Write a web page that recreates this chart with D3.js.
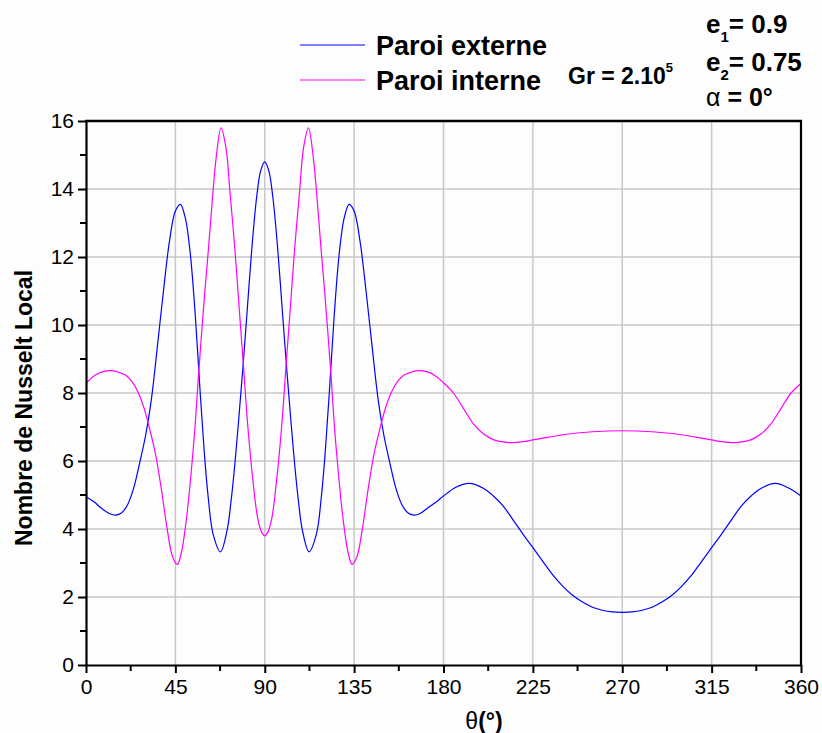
<!DOCTYPE html>
<html><head><meta charset="utf-8">
<script src="https://cdn.jsdelivr.net/npm/d3@7"></script>
<style>body{margin:0;background:#fff;}svg{display:block;font-family:Arial,"Liberation Sans",sans-serif;}</style>
</head><body>
<script>
const thetaExt = [0,4,8,12,15,18,21,24,27,30,33,36,39,42,45,47.5,50,52.5,55,57.5,59.5,61.5,64,67.7,71,73,75,77,79,81,83.5,86,88,90,92,94,96.5,99,101,103,105,107,109,112.3,116,118.5,120.5,122.5,125,127.5,130,132.5,135,138,141,144,147,150,153,156,159,162,165,168,172,176,180,186,193,200,205,210,215,220,225,230,235,240,245,250,255,260,265,270,275,280,285,290,295,300,305,310,315,320,325,330,335,340,347,354,360];
const nuExt = [4.95,4.80,4.60,4.45,4.41,4.48,4.72,5.20,5.94,6.75,7.85,9.40,11.00,12.45,13.35,13.55,13.15,12.10,10.30,8.00,6.30,4.95,3.85,3.33,3.95,4.80,5.94,7.30,8.75,10.30,12.25,13.80,14.55,14.80,14.55,13.80,12.25,10.30,8.75,7.30,5.94,4.80,3.95,3.33,3.85,4.95,6.30,8.00,10.30,12.10,13.15,13.55,13.35,12.45,11.00,9.40,7.85,6.75,5.94,5.20,4.72,4.48,4.41,4.45,4.62,4.78,4.97,5.22,5.34,5.20,4.98,4.68,4.27,3.85,3.45,3.05,2.65,2.32,2.05,1.85,1.70,1.61,1.56,1.55,1.56,1.61,1.70,1.85,2.05,2.32,2.65,3.05,3.45,3.85,4.27,4.68,4.98,5.20,5.34,5.20,4.97];
const thetaInt = [0,4,8,12.9,17,20,23,26,29,32,35,38,41,43.5,46,48,50.7,53,54.9,56.5,58.2,60,61.6,63.5,65.5,68,70.5,72.5,75,77,79.2,81.5,84.2,86.5,88.5,90,91.5,93.5,95.8,98.5,100.8,103,105,107.5,109.5,112,114.5,116.5,118.4,120,121.8,123.5,125.1,127,129.3,132,134,136.5,139,142,145,148,151,154,157,160,163,167.1,172,176,180,185,190,195,200,205,210,213.4,220,225,233,240.8,255,270,285,299.2,307,315,320,326.6,330,335,340,345,350,355,360];
const nuInt = [8.28,8.50,8.62,8.66,8.60,8.52,8.35,8.05,7.60,6.95,6.20,5.15,3.95,3.20,2.96,3.30,4.36,5.70,7.00,8.40,9.75,11.10,12.20,13.60,14.90,15.80,15.20,13.90,12.20,10.60,8.87,7.00,5.34,4.30,3.90,3.80,3.90,4.30,5.34,7.00,8.87,10.60,12.20,13.90,15.20,15.80,14.90,13.60,12.20,11.10,9.75,8.40,7.00,5.70,4.36,3.30,2.96,3.20,3.95,5.15,6.20,6.95,7.60,8.05,8.35,8.52,8.60,8.66,8.62,8.50,8.30,8.00,7.55,7.10,6.80,6.63,6.56,6.54,6.57,6.62,6.70,6.78,6.86,6.89,6.86,6.78,6.70,6.62,6.57,6.54,6.56,6.63,6.80,7.10,7.55,8.00,8.28];
const xTicks = [0,45,90,135,180,225,270,315,360];
const yTicks = [0,2,4,6,8,10,12,14,16];
const seriesNames = ["Paroi externe","Paroi interne"];
const colors = ["#0000ff","#ff00ff"];

const W=822,H=733;
const svg=d3.select("body").append("svg").attr("width",W).attr("height",H);
svg.append("rect").attr("width",W).attr("height",H).attr("fill","#fdfdfd");
const x=d3.scaleLinear().domain([0,360]).range([86,801]);
const y=d3.scaleLinear().domain([0,16]).range([665,121]);

// grid
const g=svg.append("g");
g.selectAll(".gx").data(xTicks.slice(1,-1)).join("line")
 .attr("x1",d=>x(d)).attr("x2",d=>x(d)).attr("y1",y(0)).attr("y2",y(16))
 .attr("stroke","#c8c8c8").attr("stroke-width",1.5);
g.selectAll(".gy").data(yTicks.slice(1,-1)).join("line")
 .attr("y1",d=>y(d)).attr("y2",d=>y(d)).attr("x1",x(0)).attr("x2",x(360))
 .attr("stroke","#c8c8c8").attr("stroke-width",1.5);

// lines
const line=d3.line().curve(d3.curveCatmullRom.alpha(0.5));
const extPts=thetaExt.map((t,i)=>[x(t),y(nuExt[i])]);
const intPts=thetaInt.map((t,i)=>[x(t),y(nuInt[i])]);
svg.append("path").attr("d",line(extPts)).attr("fill","none").attr("stroke",colors[0]).attr("stroke-width",1.2);
svg.append("path").attr("d",line(intPts)).attr("fill","none").attr("stroke",colors[1]).attr("stroke-width",1.2);

// axes
const xMinor=d3.range(0,361,22.5);
const yMinor=d3.range(0,16.01,1);
const xAxis=d3.axisBottom(x).tickValues(xTicks).tickSize(8).tickSizeOuter(0).tickPadding(6);
const xa=svg.append("g").attr("transform",`translate(0,${y(0)})`).call(xAxis);
xa.select(".domain").attr("stroke","#000").attr("stroke-width",2.2);
xa.selectAll(".tick line").attr("stroke","#000").attr("stroke-width",2);
xa.selectAll(".tick text").attr("font-size",21).attr("fill","#000").attr("font-family","Arial, 'Liberation Sans', sans-serif");
svg.append("g").selectAll("line").data(xMinor.filter(v=>xTicks.indexOf(v)<0)).join("line")
 .attr("x1",d=>x(d)).attr("x2",d=>x(d)).attr("y1",y(0)).attr("y2",y(0)+6).attr("stroke","#000").attr("stroke-width",2);

const yAxis=d3.axisLeft(y).tickValues(yTicks).tickSize(8).tickSizeOuter(0).tickPadding(4);
const ya=svg.append("g").attr("transform",`translate(${x(0)},0)`).call(yAxis);
ya.select(".domain").attr("stroke","#000").attr("stroke-width",2.2);
ya.selectAll(".tick line").attr("stroke","#000").attr("stroke-width",2);
ya.selectAll(".tick text").attr("font-size",21).attr("fill","#000").attr("font-family","Arial, 'Liberation Sans', sans-serif");
svg.append("g").selectAll("line").data(yMinor.filter(v=>yTicks.indexOf(v)<0)).join("line")
 .attr("y1",d=>y(d)).attr("y2",d=>y(d)).attr("x1",x(0)).attr("x2",x(0)-6).attr("stroke","#000").attr("stroke-width",2);

// top and right frame
svg.append("line").attr("x1",x(0)-1).attr("x2",x(360)+1).attr("y1",y(16)).attr("y2",y(16)).attr("stroke","#000").attr("stroke-width",2.5);
svg.append("line").attr("x1",x(360)).attr("x2",x(360)).attr("y1",y(16)).attr("y2",y(0)).attr("stroke","#000").attr("stroke-width",2.2);

// axis titles
const xt=svg.append("text").attr("x",484).attr("y",729).attr("text-anchor","middle").attr("font-size",23).attr("fill","#000");
xt.append("tspan").text("θ");
xt.append("tspan").attr("font-weight","bold").text("(°)");
svg.append("text").attr("transform","translate(32,408) rotate(-90)").attr("text-anchor","middle")
 .attr("font-size",23).attr("font-weight","bold").attr("fill","#000").text("Nombre de Nusselt Local");

// legend
const leg=[[45,55],[80,90]];
seriesNames.forEach((n,i)=>{
  svg.append("line").attr("x1",300).attr("x2",365).attr("y1",leg[i][0]).attr("y2",leg[i][0]).attr("stroke",colors[i]).attr("stroke-width",1.2);
  svg.append("text").attr("x",376).attr("y",leg[i][1]).attr("font-size",27).attr("font-weight","bold").attr("fill","#000").text(n);
});

// annotations
const gr=svg.append("text").attr("x",568).attr("y",84).attr("font-size",23).attr("font-weight","bold").attr("fill","#000");
gr.append("tspan").text("Gr = 2.10");
gr.append("tspan").attr("font-size",13).attr("dy",-12).text("5");

function eLabel(yy,sub,val){
  const t=svg.append("text").attr("x",706).attr("y",yy).attr("font-size",26).attr("font-weight","bold").attr("fill","#000");
  t.append("tspan").text("e");
  t.append("tspan").attr("font-size",15).attr("dy",9).text(sub);
  t.append("tspan").attr("dy",-9).text("= "+val);
}
eLabel(33,"1","0.9");
eLabel(71,"2","0.75");
const al=svg.append("text").attr("x",706).attr("y",106).attr("font-size",25).attr("fill","#000");
al.append("tspan").attr("font-weight","normal").text("α");
al.append("tspan").attr("font-weight","bold").text(" = 0°");
</script>
</body></html>
